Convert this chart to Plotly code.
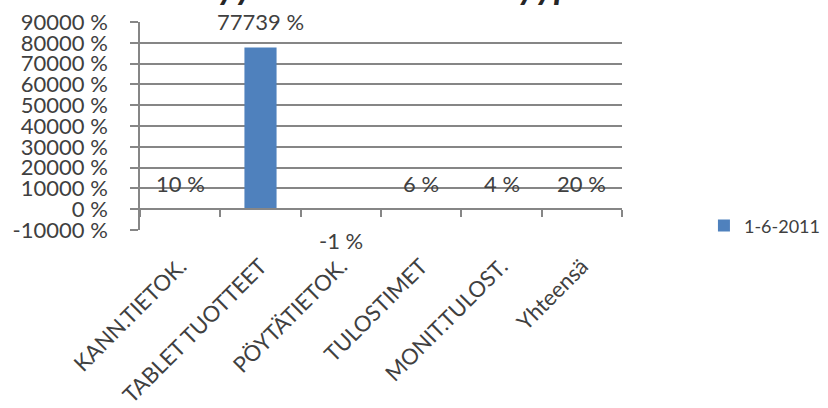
import plotly.graph_objects as go

# growth by product group, in percent
categories = ['KANN.TIETOK.', 'TABLET TUOTTEET', 'PÖYTÄTIETOK.', 'TULOSTIMET',
              'MONIT.TULOST.', 'Yhteensä']
growth_pct = [10, 77739, -1, 6, 4, 20]
series_name = '1-6-2011'
title_text = 'Myynnin kasvu tuotetyypeittäin'
y_ticks = [-10000, 0, 10000, 20000, 30000, 40000, 50000, 60000, 70000, 80000, 90000]

grey = '#868686'
txt = '#404040'
font = 'Lato'

fig = go.Figure(go.Bar(
    x=categories, y=growth_pct, name=series_name,
    marker=dict(color='#4F81BD', line=dict(width=0)),
    showlegend=True
))

# value labels, Excel-style a bit away from the bar end
for c, v in zip(categories, growth_pct):
    fig.add_annotation(x=c, y=v, text=f'{v} %', showarrow=False,
                       yanchor='middle', yshift=26 if v >= 0 else -31,
                       font=dict(family=font, size=22, color=txt))

# title is cut off by the top edge in the original
fig.add_annotation(xref='paper', yref='paper', x=0.6, y=1, text=f'<b><i>{title_text}</i></b>',
                   showarrow=False, yanchor='bottom', yshift=13,
                   font=dict(family=font, size=36, color='#262626'))

y_min, y_max = y_ticks[0], y_ticks[-1]

fig.update_layout(
    width=828, height=408,
    margin=dict(l=140, r=206, t=22, b=178, autoexpand=False),
    paper_bgcolor='white', plot_bgcolor='white',
    bargap=0.6,
    font=dict(family=font, size=22, color=txt),
    legend=dict(x=1.170, y=0.02, xanchor='left', yanchor='middle',
                font=dict(family=font, size=18, color=txt)),
    xaxis=dict(type='category', anchor='free',
               position=(0 - y_min) / (y_max - y_min),
               showline=True, linecolor=grey, linewidth=1.5,
               ticks='outside', tickson='boundaries', ticklen=7,
               tickcolor=grey, tickwidth=1.5, showgrid=False,
               tickangle=-45, ticklabelstandoff=35,
               tickfont=dict(family=font, size=22, color=txt)),
    yaxis=dict(range=[y_min, y_max], tickvals=y_ticks,
               ticktext=[f'{t} %' for t in y_ticks],
               showline=True, linecolor=grey, linewidth=1.5,
               showgrid=True, gridcolor=grey, gridwidth=1.5,
               zeroline=False, ticks='outside', ticklen=8,
               tickcolor=grey, tickwidth=1.5, ticklabelstandoff=18,
               tickfont=dict(family=font, size=22, color=txt)),
)

# drop the default page margin so the chart sits at the window corner
fig.write_html('out.html', config={'displayModeBar': False},
               post_script="document.body.style.margin='0';")
